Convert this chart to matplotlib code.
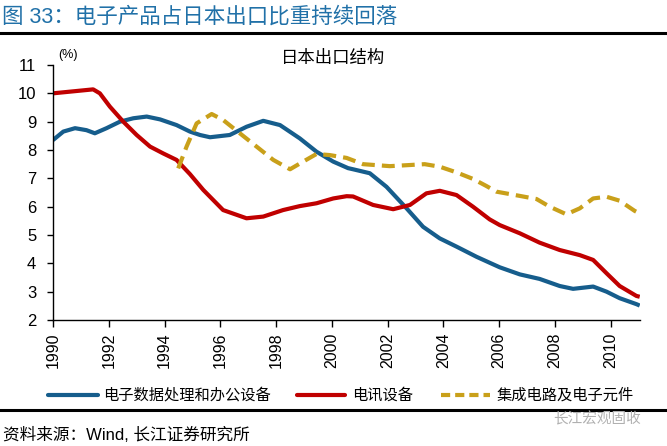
import matplotlib
matplotlib.use("Agg")
import matplotlib.pyplot as plt
from matplotlib.lines import Line2D

plt.rcParams['font.family'] = ['Liberation Sans', 'Noto Sans CJK SC', 'DejaVu Sans']

# ---- data ----
blue_label = "电子数据处理和办公设备"
blue_x = [1990.0, 1990.37, 1990.79, 1991.2, 1991.5, 1991.92, 1992.4, 1992.88, 1993.36,
          1993.84, 1994.43, 1994.91, 1995.27, 1995.63, 1996.34, 1996.94, 1997.54, 1998.14,
          1998.85, 1999.45, 2000.05, 2000.58, 2000.76, 2001.36, 2001.96, 2002.68, 2003.27,
          2003.87, 2004.47, 2005.19, 2005.66, 2006.02, 2006.74, 2007.45, 2008.17, 2008.65,
          2009.37, 2009.85, 2010.32, 2010.92, 2011.04]
blue_y = [8.35, 8.65, 8.77, 8.7, 8.59, 8.77, 9.0, 9.12, 9.18,
          9.08, 8.88, 8.65, 8.53, 8.45, 8.53, 8.82, 9.03, 8.88,
          8.41, 7.94, 7.59, 7.36, 7.32, 7.18, 6.7, 5.94, 5.29,
          4.88, 4.59, 4.23, 4.02, 3.86, 3.61, 3.45, 3.2, 3.1,
          3.18, 3.0, 2.77, 2.56, 2.51]

red_label = "电讯设备"
red_x = [1990.0, 1991.44, 1991.68, 1992.04, 1992.52, 1993.0, 1993.48, 1993.95, 1994.43,
         1994.91, 1995.39, 1996.1, 1996.94, 1997.54, 1998.25, 1998.85, 1999.45, 2000.05,
         2000.53, 2000.76, 2001.48, 2002.2, 2002.8, 2003.39, 2003.87, 2004.47, 2005.06,
         2005.66, 2006.02, 2006.74, 2007.45, 2008.17, 2008.89, 2009.37, 2009.85, 2010.32,
         2010.92, 2011.04]
red_y = [10.0, 10.14, 10.0, 9.53, 9.0, 8.53, 8.12, 7.88, 7.65,
         7.15, 6.59, 5.88, 5.59, 5.65, 5.88, 6.02, 6.12, 6.29,
         6.37, 6.36, 6.06, 5.91, 6.06, 6.47, 6.56, 6.41, 6.0,
         5.55, 5.35, 5.06, 4.73, 4.47, 4.29, 4.12, 3.65, 3.2,
         2.85, 2.82]

gold_label = "集成电路及电子元件"
gold_x = [1994.49, 1994.79, 1995.15, 1995.69, 1996.1, 1996.7, 1997.3, 1997.9, 1998.5,
          1998.97, 1999.45, 1999.93, 2000.53, 2001.12, 2002.08, 2002.8, 2003.33, 2003.87,
          2004.47, 2005.06, 2005.54, 2005.9, 2006.74, 2007.34, 2007.81, 2008.41, 2008.89,
          2009.37, 2009.85, 2010.32, 2010.86, 2011.04]
gold_y = [7.35, 8.12, 8.94, 9.27, 9.06, 8.59, 8.12, 7.65, 7.32,
          7.59, 7.86, 7.82, 7.72, 7.5, 7.43, 7.47, 7.5, 7.41,
          7.21, 6.98, 6.73, 6.53, 6.38, 6.27, 6.0, 5.73, 5.94,
          6.29, 6.35, 6.21, 5.85, 5.76]

x_ticks = list(range(1990, 2011, 2))
y_ticks = list(range(2, 12))

title = "图 33：电子产品占日本出口比重持续回落"
chart_title = "日本出口结构"
source = "资料来源：Wind, 长江证券研究所"
watermark = "长江宏观固收"

BLUE = "#165D8C"
RED = "#C00000"
GOLD = "#C9A01A"
TITLE_BLUE = "#2171A8"

W, H = 667, 446
fig = plt.figure(figsize=(W / 100, H / 100), dpi=100)

def fx(px):
    return px / W

def fy(py):
    return 1 - py / H

ax = fig.add_axes([fx(53), fy(320), fx(640) - fx(53), fy(65) - fy(320)])

lw = 3.0
ax.plot(blue_x, blue_y, color=BLUE, lw=lw, solid_joinstyle='round', solid_capstyle='butt')
ax.plot(red_x, red_y, color=RED, lw=lw, solid_joinstyle='round', solid_capstyle='butt')
ax.plot(gold_x, gold_y, color=GOLD, lw=lw, linestyle=(0, (3.1, 1.7)), dash_joinstyle='round')

ax.set_xlim(1990, 2011.05)
ax.set_ylim(2, 11)
ax.set_xticks(x_ticks)
ax.set_xticklabels([str(v) for v in x_ticks], rotation=90, fontsize=11.5)
ax.set_yticks(y_ticks)
ax.set_yticklabels([str(v) for v in y_ticks], fontsize=12)
ax.tick_params(axis='y', direction='out', length=4, width=1, pad=8)
ax.tick_params(axis='x', direction='out', length=5, width=1, pad=4)
for s in ['top', 'right']:
    ax.spines[s].set_visible(False)
for s in ['left', 'bottom']:
    ax.spines[s].set_linewidth(1.0)
    ax.spines[s].set_color('black')
ax.patch.set_alpha(0)

# texts
fig.text(fx(2), fy(17), title, fontsize=15.5, color=TITLE_BLUE, va='center', ha='left')
fig.add_artist(Line2D([0, 1], [fy(33), fy(33)], color='black', lw=2.2))
fig.text(fx(333), fy(58), chart_title, fontsize=12.5, ha='center', va='center')
fig.text(fx(58), fy(55), "(%)", fontsize=9, ha='left', va='center')

# legend
ly = fy(395)
fig.add_artist(Line2D([fx(48), fx(98)], [ly, ly], color=BLUE, lw=lw, solid_capstyle='round'))
fig.text(fx(103), ly, blue_label, fontsize=11, va='center', ha='left')
fig.add_artist(Line2D([fx(297), fx(345)], [ly, ly], color=RED, lw=lw, solid_capstyle='round'))
fig.text(fx(352), ly, red_label, fontsize=11, va='center', ha='left')
fig.add_artist(Line2D([fx(441), fx(490)], [ly, ly], color=GOLD, lw=lw, linestyle=(0, (2.2, 1.2))))
fig.text(fx(497), ly, gold_label, fontsize=11, va='center', ha='left')

fig.add_artist(Line2D([0, 1], [fy(410), fy(410)], color='black', lw=2.2))
fig.text(fx(553), fy(419), watermark, fontsize=10.5, color='#b0b0b0', va='center', ha='left')
fig.text(fx(3), fy(435), source, fontsize=12, va='center', ha='left')

fig.savefig("out.png", dpi=100)
